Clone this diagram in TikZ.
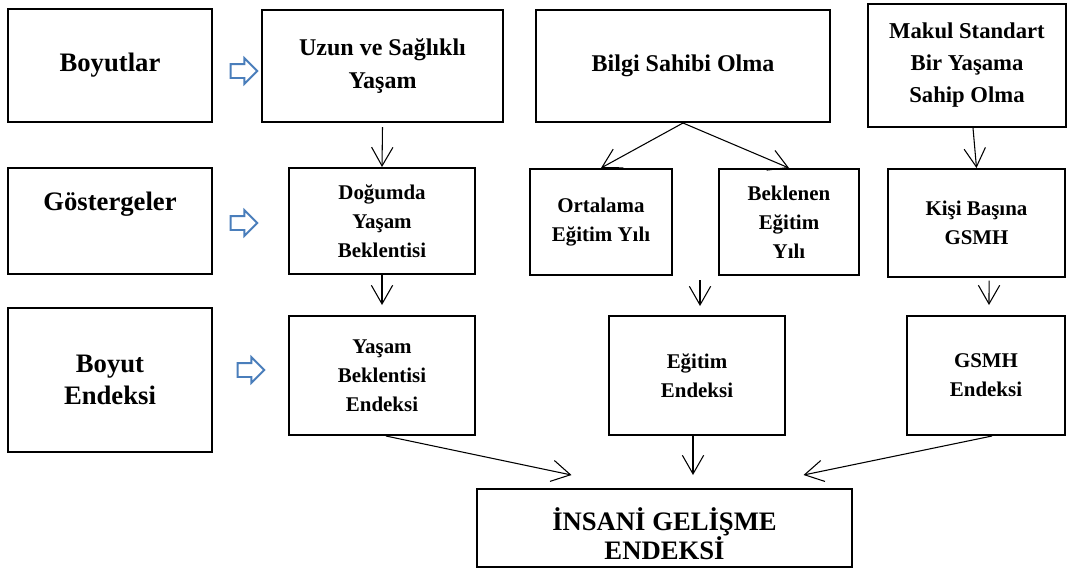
\documentclass[tikz,border=0pt]{standalone}
\usepackage{fontspec}
\setmainfont{Liberation Serif}
\usetikzlibrary{arrows.meta,shapes.arrows}
\definecolor{arrowblue}{RGB}{74,126,187}
\begin{document}
\begin{tikzpicture}[x=0.75pt,y=-0.75pt,
  box/.style={draw, line width=1.5pt, align=center, inner sep=0pt},
  sz/.style 2 args={minimum width=#1*0.75pt, minimum height=#2*0.75pt},
  fbig/.style={font=\bfseries\fontsize{20}{23.5}\selectfont},
  fmid/.style={font=\bfseries\fontsize{18}{25}\selectfont},
  fmak/.style={font=\bfseries\fontsize{17}{24}\selectfont},
  fsml/.style={font=\bfseries\fontsize{15.7}{21.8}\selectfont},
  conn/.style={line width=0.8pt, -{Straight Barb[length=14pt,width=16pt,line width=0.8pt]}},
  hollow/.style={single arrow, draw=arrowblue, fill=white, line width=1.4pt,
    inner xsep=0pt, inner ysep=4.5pt, minimum height=20pt,
    single arrow head extend=4.5pt, single arrow head indent=0pt}]
\useasboundingbox (0,0) rectangle (1073,569);

% row labels
\node[box, sz={204}{113}, fbig] (boy) at (110,65) {Boyutlar};
\node[box, sz={204}{106}] (gos) at (110,221) {};
\node[fbig] (gost) at (110,204) {Göstergeler};
\node[box, sz={204}{144}, fbig] (bend) at (110,380) {Boyut\\Endeksi};

% hollow arrows
\node[hollow] (ha1) at (240.5,71) {};
\node[hollow] (ha2) at (240.5,223) {};
\node[hollow] (ha3) at (247.5,370) {};

% top row
\node[box, sz={241}{112}, fmid] (uzun) at (382.5,66) {Uzun ve Sağlıklı\\Yaşam};
\node[box, sz={294}{112}, fmid] (bilgi) at (683,66) {Bilgi Sahibi Olma};
\node[box, sz={198}{123}, fmak] (makul) at (967,65.5) {Makul Standart\\Bir Yaşama\\Sahip Olma};

% indicators
\node[box, sz={186}{106}, fsml] (dog) at (382,221) {Doğumda\\Yaşam\\Beklentisi};
\node[box, sz={142}{106}, fsml] (ort) at (601,222) {Ortalama\\Eğitim Yılı};
\node[box, sz={140}{106}, fsml] (bek) at (789,222) {Beklenen\\Eğitim\\Yılı};
\node[box, sz={177}{108}, fsml] (kisi) at (976.5,223) {Kişi Başına\\GSMH};

% indices
\node[box, sz={186}{119}, fsml] (ybe) at (382,375.5) {Yaşam\\Beklentisi\\Endeksi};
\node[box, sz={176}{119}, fsml] (egi) at (697,375.5) {Eğitim\\Endeksi};
\node[box, sz={158}{119}, fsml] (gsmh) at (986,375.5) {GSMH\\Endeksi};

% final
\node[box, sz={375}{78}] (ins) at (664.5,528) {};
\node[align=center, font=\bfseries\fontsize{20}{22}\selectfont] (inst) at (664.5,534) {İNSANİ GELİŞME\\ENDEKSİ};

% coordinates
\coordinate (egstart) at (700,280);
\coordinate (egtip) at (700,306);
\coordinate (inA) at (571.5,475);
\coordinate (inB) at (693,475);
\coordinate (inC) at (803.5,475);

% connectors
\draw[conn] ([yshift=-3pt]uzun.south) -- (dog.north);
\draw[conn] (dog.south) -- ([yshift=7.5pt]ybe.north);
\draw[conn] (bilgi.south) -- (ort.north);
\draw[conn] (bilgi.south) -- (bek.north);
\draw[conn] ([xshift=4.5pt]makul.south) -- (kisi.north);
\draw[conn] (egstart) -- (egtip);
\draw[conn] ([xshift=9.4pt,yshift=-2pt]kisi.south) -- ([xshift=2.25pt,yshift=7.5pt]gsmh.north);
\draw[conn] ([xshift=3pt]ybe.south) -- (inA);
\draw[conn] ([xshift=-3pt]egi.south) -- (inB);
\draw[conn] ([xshift=4.5pt]gsmh.south) -- (inC);
\end{tikzpicture}
\end{document}
